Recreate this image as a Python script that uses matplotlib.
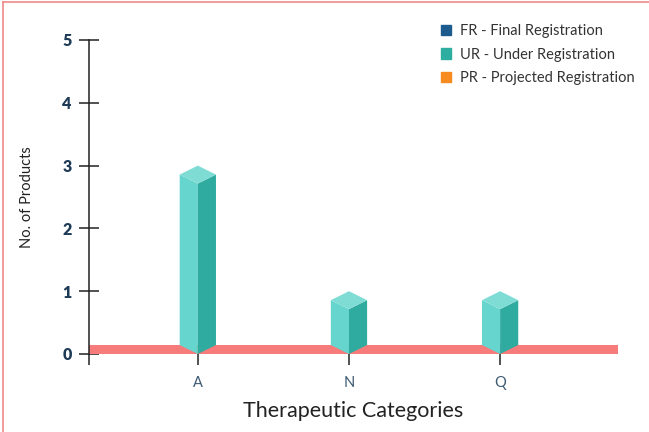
import matplotlib.pyplot as plt
from matplotlib.patches import Polygon, Patch, Rectangle
from matplotlib.lines import Line2D

categories = ['A', 'N', 'Q']
ur_values = [3, 1, 1]
legend_labels = ['FR - Final Registration', 'UR - Under Registration', 'PR - Projected Registration']
legend_colors = ['#1d5a8e', '#2eaea0', '#f78b1f']

plt.rcParams['font.family'] = ['Lato', 'DejaVu Sans']

fig = plt.figure(figsize=(6.49, 4.32), dpi=100)
ax = fig.add_axes([89 / 649, 78 / 432, 529 / 649, 314 / 432])

xmin, xmax = -0.72, 2.78
ax.set_xlim(xmin, xmax)
ax.set_ylim(0, 5)

# pink baseline band
ax.add_patch(Rectangle((xmin, 0), xmax - xmin, 0.14, color='#f77b7b', lw=0, zorder=2))

# isometric bars
w = 0.12
dy = 0.143
for i, v in enumerate(ur_values):
    h = v - 2 * dy
    left = [(i - w, dy), (i, 0), (i, h), (i - w, h + dy)]
    right = [(i, 0), (i + w, dy), (i + w, h + dy), (i, h)]
    top = [(i - w, h + dy), (i, h), (i + w, h + dy), (i, v)]
    ax.add_patch(Polygon(left, closed=True, fc='#66d5cd', ec='none', zorder=3))
    ax.add_patch(Polygon(right, closed=True, fc='#2fab9f', ec='none', zorder=3))
    ax.add_patch(Polygon(top, closed=True, fc='#7edcd5', ec='none', zorder=3))

for s in ['top', 'right', 'bottom']:
    ax.spines[s].set_visible(False)
ax.spines['left'].set_color('#222222')
ax.spines['left'].set_linewidth(1.1)

ax.set_yticks(range(6))
ax.tick_params(axis='y', direction='inout', length=15, width=1.1, color='#222222',
               labelsize=11.5, labelcolor='#1d3a56', pad=5)
for t in ax.get_yticklabels():
    t.set_fontweight('heavy')

ax.set_xticks([xmin, 0, 1, 2])
ax.set_xticklabels([''] + categories)
ax.tick_params(axis='x', direction='out', length=8, width=1.1, color='#222222',
               labelsize=10.5, labelcolor='#3d5a73', pad=8)

ax.set_xlabel('Therapeutic Categories', fontsize=15.5, color='#222222', labelpad=8)
ax.set_ylabel('No. of Products', fontsize=10.5, color='#222222', labelpad=20)

handles = [Patch(color=c, label=l) for c, l in zip(legend_colors, legend_labels)]
fig.legend(handles=handles, loc='upper left', bbox_to_anchor=(428 / 649, 1 - 11 / 432),
           frameon=False, fontsize=10.5, handlelength=0.7, handleheight=0.7,
           handletextpad=0.6, labelspacing=0.65, labelcolor='#333333')

# figure border on top and left
fig.add_artist(Line2D([3 / 649, 3 / 649], [0, 1 - 2 / 432], color='#f08a8a', lw=1.2))
fig.add_artist(Line2D([3 / 649, 1], [1 - 2 / 432, 1 - 2 / 432], color='#f08a8a', lw=1.2))

fig.savefig('out.png', dpi=100)
